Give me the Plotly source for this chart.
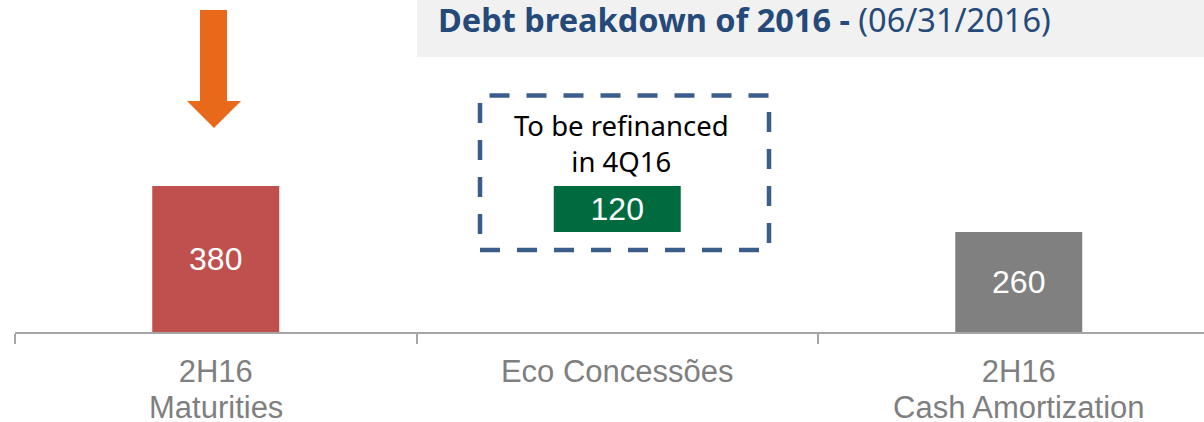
import plotly.graph_objects as go

# ---- data ----
categories = ["Maturities", "Eco", "Amort"]
tick_line1 = ["2H16", "Eco Concessões", "2H16"]
tick_line2 = ["Maturities", "", "Cash Amortization"]
bar_values = [380, 120, 260]
bar_bases = [0, 260, 0]
bar_labels = ["380", "120", "260"]
bar_colors = ["#C0504D", "#006B3F", "#808080"]
title_bold = "Debt breakdown of 2016 -"
title_normal = "(06/31/2016)"
note_text = "To be refinanced<br>in 4Q16"

W, H = 1204, 422
L, R, T, B = 15, 0, 0, 90
PW, PH = W - L - R, H - T - B
CAT_PX = 401.5


def xp(px):
    return (px - L) / PW


def yp(py):
    return (T + PH - py) / PH


fig = go.Figure()
fig.add_trace(go.Bar(
    x=categories, y=bar_values, base=bar_bases,
    marker=dict(color=bar_colors, line=dict(width=0)),
    text=bar_labels, textposition="inside", insidetextanchor="middle",
    textfont=dict(family="Liberation Sans, Arial, sans-serif", size=32, color="white"),
    constraintext="none", hoverinfo="skip",
))

shapes = []
# title background
shapes.append(dict(type="rect", xref="paper", yref="paper",
                   x0=xp(417), x1=xp(1215), y0=yp(57), y1=yp(-5),
                   fillcolor="#F1F1F1", line=dict(width=0), layer="below"))
# dashed box
shapes.append(dict(type="rect", xref="paper", yref="paper",
                   x0=xp(480), x1=xp(769), y0=yp(250), y1=yp(95.5),
                   fillcolor="rgba(0,0,0,0)",
                   line=dict(color="#3A5D8C", width=4.5, dash="20px,17px")))
# orange arrow
pts = [(200, 10), (227, 10), (227, 101), (241, 101), (214, 128), (187, 101), (200, 101)]
path = "M " + " L ".join(f"{xp(a):.5f},{yp(b):.5f}" for a, b in pts) + " Z"
shapes.append(dict(type="path", xref="paper", yref="paper", path=path,
                   fillcolor="#E8691A", line=dict(width=0)))

annotations = []
annotations.append(dict(
    xref="paper", yref="paper", x=xp(436), y=yp(20), xanchor="left", yanchor="middle",
    text=f"<b>{title_bold}</b> {title_normal}", showarrow=False,
    font=dict(family="Noto Sans, sans-serif", size=32.5, color="#254A7A")))
annotations.append(dict(
    xref="paper", yref="paper", x=xp(621), y=yp(143), xanchor="center", yanchor="middle",
    text=note_text, showarrow=False,
    font=dict(family="Noto Sans, sans-serif", size=27.5, color="black")))
for c, t2 in zip(categories, tick_line2):
    if t2:
        annotations.append(dict(
            xref="x", yref="paper", x=c, y=0, xanchor="center", yanchor="top",
            yshift=-56, text=t2, showarrow=False,
            font=dict(family="Liberation Sans, Arial, sans-serif", size=31, color="#7F7F7F")))

x_end = -0.5 + PW / CAT_PX
fig.update_layout(
    width=W, height=H, margin=dict(l=L, r=R, t=T, b=B, pad=0),
    paper_bgcolor="white", plot_bgcolor="white",
    showlegend=False, bargap=1 - 127 / CAT_PX,
    shapes=shapes, annotations=annotations,
    uniformtext=dict(minsize=32, mode="show"),
    xaxis=dict(type="category", range=[-0.5, x_end], tickson="boundaries",
               tickmode="array", tickvals=categories, ticktext=tick_line1,
               showline=True, linecolor="#A6A6A6", linewidth=2,
               ticks="outside", ticklen=10, tickcolor="#A6A6A6", tickwidth=2,
               ticklabelstandoff=11,
               showgrid=False, zeroline=False,
               tickfont=dict(family="Liberation Sans, Arial, sans-serif", size=31, color="#7F7F7F")),
    yaxis=dict(range=[0, PH / (146 / 380)], visible=False, showgrid=False, zeroline=False),
)

fig.write_html("out.html", config={"displayModeBar": False},
               post_script="document.body.style.margin='0';document.body.style.overflow='hidden';")
